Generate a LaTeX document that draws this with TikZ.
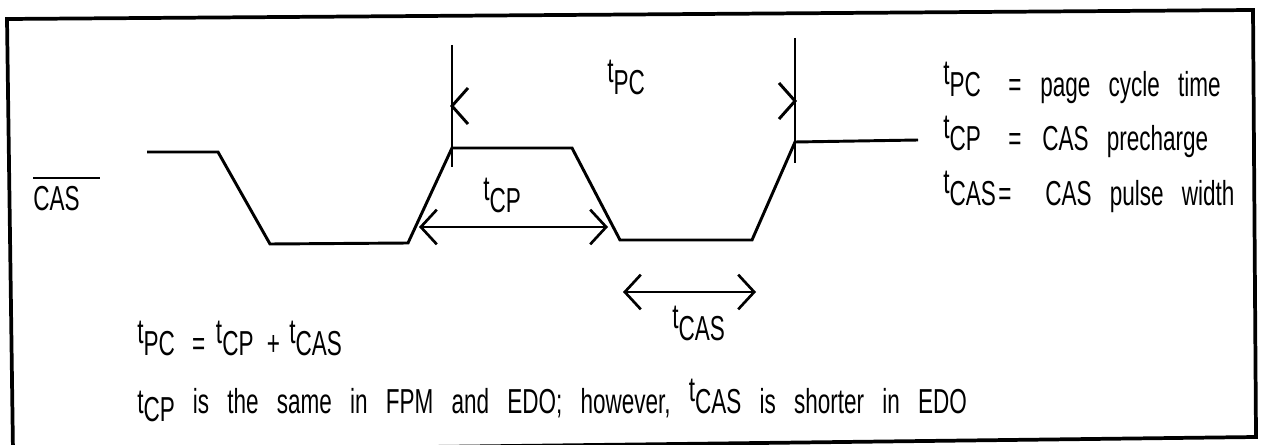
\documentclass[tikz,border=0pt]{standalone}
\usepackage{fontspec}
\setmainfont[FakeStretch=0.65,WordSpace=2.9]{Liberation Sans}
\usetikzlibrary{arrows.meta}
\newcommand\tR[1]{\raisebox{9pt}{t}#1}
\newcommand\tL[1]{t\raisebox{-6pt}{#1}}
\begin{document}
\begin{tikzpicture}[x=0.75pt,y=-0.75pt,
  wave/.style={line width=2.2pt, line join=miter},
  frame/.style={line width=2.8pt},
  dim/.style={line width=2pt, {Straight Barb[length=12pt,width=26pt]}-{Straight Barb[length=12pt,width=26pt]}},
  lbl/.style={inner sep=0pt, anchor=base west, font=\fontsize{26}{29}\selectfont}]
\useasboundingbox (0,0) rectangle (1262,445);
\clip (0,0) rectangle (1262,445);
% frame
\coordinate (fTL) at (7,19);
\coordinate (fTR) at (1253,10);
\coordinate (fBR) at (1256,437);
\coordinate (fBL) at (13,452);
\draw[frame] (fTL) -- (fTR) -- (fBR) -- (fBL) -- cycle;
% waveform
\coordinate (w1) at (147,152);
\coordinate (w2) at (218,152);
\coordinate (w3) at (270,244);
\coordinate (w4) at (408,243);
\coordinate (w5) at (452,148);
\coordinate (w6) at (572,148);
\coordinate (w7) at (620,240);
\coordinate (w8) at (752,240);
\coordinate (w9) at (795,142);
\coordinate (w10) at (918,140);
\draw[wave] (w1) -- (w2) -- (w3) -- (w4) -- (w5) -- (w6) -- (w7) -- (w8) -- (w9) -- (w10);
% markers
\coordinate (m1t) at (452,45);
\coordinate (m1b) at (452,167);
\coordinate (m2t) at (795,38);
\coordinate (m2b) at (795,163);
\draw[wave] (m1t) -- (m1b);
\draw[wave] (m2t) -- (m2b);
% tPC chevrons
\coordinate (pcL) at (452,106);
\coordinate (pcR) at (795,101);
\draw[wave] (pcL) ++(16,-18) -- (pcL) -- ++(16,18);
\draw[wave] (pcR) ++(-16,-18) -- (pcR) -- ++(-16,18);
% tCP arrow
\coordinate (cpL) at (419,227);
\coordinate (cpR) at (608,227);
\draw[dim] (cpL) -- (cpR);
% tCAS arrow
\coordinate (caL) at (623,292);
\coordinate (caR) at (756,292);
\draw[dim] (caL) -- (caR);
% CAS signal name
\node[lbl] (cas) at (33,210) {CAS};
\coordinate (ovl) at (33,178);
\coordinate (ovr) at (100,178);
\draw[wave, line width=2pt] (ovl) -- (ovr);
% labels
\node[lbl] (lpc) at (607,95) {\tR{PC}};
\node[lbl] (lcp) at (483,213) {\tR{CP}};
\node[lbl] (lcas) at (672,340) {\tR{CAS}};
% legend
\node[lbl] (k1) at (943,97) {\tR{PC}};
\node[lbl] (e1) at (1008,97) {=};
\node[lbl] (d1) at (1040,97) {page cycle time};
\node[lbl] (k2) at (943,151) {\tR{CP}};
\node[lbl] (e2) at (1008,151) {=};
\node[lbl] (d2) at (1042,151) {CAS precharge};
\node[lbl] (k3) at (943,205) {\tR{CAS}};
\node[lbl] (e3) at (998,205) {=};
\node[lbl] (d3) at (1045,205) {CAS pulse width};
% equations
\node[lbl] (eq) at (137,355) {\tR{PC}\hspace{13pt}=\hspace{8pt}\tR{CP}\hspace{10pt}+\hspace{7pt}\tR{CAS}};
\node[lbl] (note) at (137,413) {\tL{CP} is the same in FPM and EDO; however, \tR{CAS} is shorter in EDO};
\end{tikzpicture}
\end{document}
